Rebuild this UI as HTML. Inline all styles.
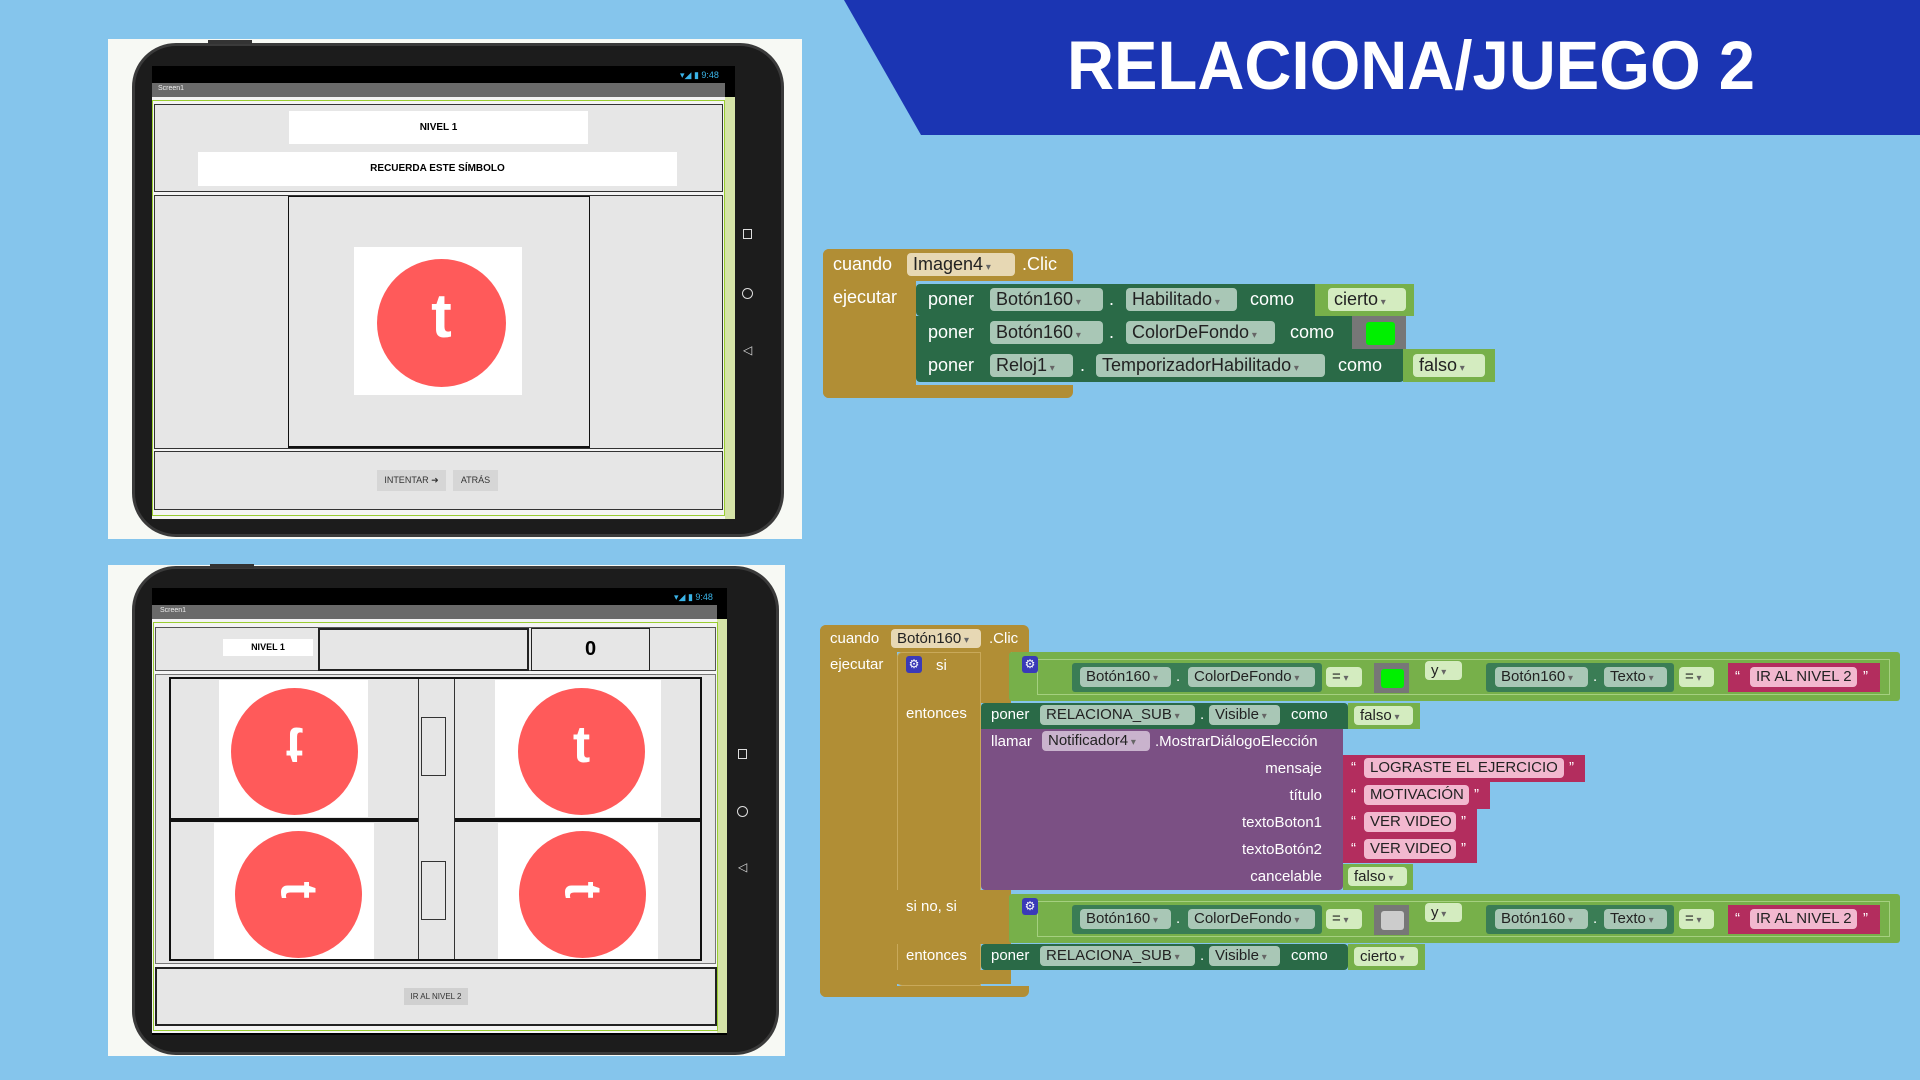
<!DOCTYPE html>
<html><head><meta charset="utf-8"><style>
*{margin:0;padding:0;box-sizing:border-box}
body{width:1920px;height:1080px;background:#85c5ec;position:relative;overflow:hidden;font-family:"Liberation Sans",sans-serif}
div,span{position:absolute}
.g{background:#e6e6e6}
.bx{border:2px solid #333}
.c{background:#ff5a5a;border-radius:50%}
.t{color:#fff;font-weight:bold;text-align:center}
.gold{background:#b18e35}
.dg{background:#2a6a47}
.lg{background:#77b04a}
.pu{background:#7b5084}
.mg{background:#b32d5e}
.w{color:#fff;white-space:nowrap}
.p{border-radius:4px;color:#222;white-space:nowrap;padding-left:6px}
.pd{background:#a9c7b6}
.pl{background:#d4ecc0}
.pg{background:#e7d8b4}
.pp{background:#c9b3cd}
.pk{background:#f2b8cf}
.dd::after{content:" ▾";font-size:10px;color:#666}
</style></head><body>

<!-- title -->
<svg style="position:absolute;left:0;top:0" width="1920" height="140">
<polygon points="844,0 1920,0 1920,135 921,135" fill="#1b35b3"/>
<text x="1067" y="89" font-family="Liberation Sans" font-weight="bold" font-size="69" fill="#fff" textLength="688" lengthAdjust="spacingAndGlyphs">RELACIONA/JUEGO 2</text>
</svg>

<!-- top tablet -->
<div style="left:108px;top:39px;width:694px;height:500px;background:#f7f9f4"></div>
<div style="left:132px;top:43px;width:652px;height:494px;background:#1c1c1c;border-radius:44px;border:3px solid #3a3a3a"></div>
<div style="left:208px;top:40px;width:44px;height:4px;background:#333"></div>
<div style="left:152px;top:66px;width:583px;height:453px;background:#000"></div>
<span style="left:680px;top:70px;font-size:9px;color:#3ab4e8">▾◢ ▮ 9:48</span>
<div style="left:152px;top:83px;width:573px;height:14px;background:#6a6a6a"></div>
<span style="left:158px;top:85px;font-size:7px;color:#eee">Screen1</span>
<div style="left:152px;top:97px;width:583px;height:422px;background:#f4f4f4"></div>
<div style="left:725px;top:97px;width:10px;height:422px;background:#d5e3a8"></div>
<div style="left:152px;top:100px;width:573px;height:416px;border:1px solid #9acd32"></div>
<div class="g bx" style="left:154px;top:104px;width:569px;height:88px;border-width:1px"></div>
<div style="left:289px;top:111px;width:299px;height:33px;background:#fff;font-size:10px;font-weight:bold;text-align:center;line-height:33px">NIVEL 1</div>
<div style="left:198px;top:152px;width:479px;height:34px;background:#fff;font-size:10px;font-weight:bold;text-align:center;line-height:34px">RECUERDA ESTE SÍMBOLO</div>
<div class="g bx" style="left:154px;top:195px;width:569px;height:254px;border-width:1px"></div>
<div class="g" style="left:288px;top:196px;width:302px;height:252px;border:1px solid #111;border-bottom-width:2px"></div>
<div style="left:354px;top:247px;width:168px;height:148px;background:#fff"></div>
<div class="c" style="left:377px;top:259px;width:129px;height:128px"></div>
<div class="t" style="left:377px;top:282px;width:129px;font-size:62px;line-height:70px">t</div>
<div class="g bx" style="left:154px;top:451px;width:569px;height:59px;border-width:1px"></div>
<div style="left:377px;top:470px;width:69px;height:21px;background:#d6d6d6;font-size:9px;line-height:21px;text-align:center;color:#333">INTENTAR ➜</div>
<div style="left:453px;top:470px;width:45px;height:21px;background:#d6d6d6;font-size:9px;line-height:21px;text-align:center;color:#333">ATRÁS</div>
<div style="left:743px;top:229px;width:9px;height:10px;border:1.5px solid #ddd"></div>
<div style="left:742px;top:288px;width:11px;height:11px;border:1.5px solid #ddd;border-radius:50%"></div>
<span style="left:743px;top:343px;font-size:12px;color:#ddd">◁</span>

<!-- bottom tablet -->
<div style="left:108px;top:565px;width:677px;height:491px;background:#f7f9f4"></div>
<div style="left:132px;top:566px;width:647px;height:489px;background:#1c1c1c;border-radius:44px;border:3px solid #3a3a3a"></div>
<div style="left:210px;top:564px;width:44px;height:4px;background:#333"></div>
<div style="left:152px;top:588px;width:575px;height:447px;background:#000"></div>
<span style="left:674px;top:592px;font-size:9px;color:#3ab4e8">▾◢ ▮ 9:48</span>
<div style="left:152px;top:605px;width:565px;height:14px;background:#6a6a6a"></div>
<span style="left:160px;top:607px;font-size:7px;color:#eee">Screen1</span>
<div style="left:152px;top:619px;width:575px;height:414px;background:#f4f4f4"></div>
<div style="left:717px;top:619px;width:10px;height:414px;background:#d5e3a8"></div>
<div style="left:153px;top:622px;width:565px;height:409px;border:1px solid #9acd32"></div>
<div class="g" style="left:155px;top:627px;width:561px;height:44px;border:1px solid #555"></div>
<div style="left:223px;top:639px;width:90px;height:17px;background:#fff;font-size:9px;font-weight:bold;text-align:center;line-height:17px">NIVEL 1</div>
<div class="g" style="left:318px;top:628px;width:211px;height:43px;border:2px solid #222"></div>
<div class="g" style="left:531px;top:628px;width:119px;height:43px;border:1px solid #222;font-size:20px;font-weight:bold;text-align:center;line-height:41px">0</div>
<div class="g" style="left:155px;top:674px;width:561px;height:290px;border:1px solid #777"></div>
<div class="g" style="left:169px;top:677px;width:533px;height:284px;border:2px solid #111"></div>
<div style="left:171px;top:818px;width:529px;height:4px;background:#111"></div>
<div class="g" style="left:418px;top:679px;width:37px;height:280px;border-left:1px solid #333;border-right:1px solid #333"></div>
<div style="left:421px;top:717px;width:25px;height:59px;border:1.5px solid #333"></div>
<div style="left:421px;top:861px;width:25px;height:59px;border:1.5px solid #333"></div>
<div style="left:219px;top:680px;width:149px;height:137px;background:#fff"></div>
<div style="left:495px;top:680px;width:166px;height:137px;background:#fff"></div>
<div style="left:214px;top:823px;width:160px;height:136px;background:#fff"></div>
<div style="left:498px;top:823px;width:160px;height:136px;background:#fff"></div>
<div class="c" style="left:231px;top:688px;width:127px;height:127px"></div>
<div class="c" style="left:518px;top:688px;width:127px;height:127px"></div>
<div class="c" style="left:235px;top:831px;width:127px;height:127px"></div>
<div class="c" style="left:519px;top:831px;width:127px;height:127px"></div>
<div class="t" style="left:231px;top:715px;width:127px;font-size:52px;line-height:60px;transform:scaleY(-1)">t</div>
<div class="t" style="left:518px;top:715px;width:127px;font-size:52px;line-height:60px">t</div>
<div class="t" style="left:235px;top:860px;width:127px;font-size:52px;line-height:60px;transform:rotate(90deg)">t</div>
<div class="t" style="left:519px;top:860px;width:127px;font-size:52px;line-height:60px;transform:rotate(90deg)">t</div>
<div class="g" style="left:155px;top:967px;width:562px;height:59px;border:2px solid #222"></div>
<div style="left:404px;top:988px;width:64px;height:17px;background:#d0d0d0;font-size:8px;line-height:17px;text-align:center;color:#333">IR AL NIVEL 2</div>
<div style="left:738px;top:749px;width:9px;height:10px;border:1.5px solid #ddd"></div>
<div style="left:737px;top:806px;width:11px;height:11px;border:1.5px solid #ddd;border-radius:50%"></div>
<span style="left:738px;top:860px;font-size:12px;color:#ddd">◁</span>

<!-- block 1 -->
<div style="font-size:18px">
<div class="gold" style="left:823px;top:249px;width:250px;height:32px;border-radius:6px 6px 0 0"></div>
<div class="gold" style="left:823px;top:249px;width:93px;height:149px;border-radius:6px 0 0 6px"></div>
<div class="gold" style="left:823px;top:385px;width:250px;height:13px;border-radius:0 0 6px 6px"></div>
<span class="w" style="left:833px;top:254px">cuando</span>
<span class="p pg dd" style="left:907px;top:253px;width:108px;height:23px;line-height:23px">Imagen4</span>
<span class="w" style="left:1022px;top:254px">.Clic</span>
<span class="w" style="left:833px;top:287px">ejecutar</span>

<div class="dg" style="left:916px;top:284px;width:406px;height:32px;border-radius:4px"></div>
<div class="lg" style="left:1315px;top:284px;width:99px;height:32px"></div>
<span class="p pl dd" style="left:1328px;top:288px;width:78px;height:23px;line-height:23px">cierto</span>
<span class="w" style="left:928px;top:289px">poner</span>
<span class="p pd dd" style="left:990px;top:288px;width:113px;height:23px;line-height:23px">Botón160</span>
<span class="w" style="left:1109px;top:289px">.</span>
<span class="p pd dd" style="left:1126px;top:288px;width:111px;height:23px;line-height:23px">Habilitado</span>
<span class="w" style="left:1250px;top:289px">como</span>

<div class="dg" style="left:916px;top:316px;width:437px;height:33px"></div>
<div style="left:1352px;top:316px;width:54px;height:33px;background:#777"></div>
<div style="left:1366px;top:322px;width:29px;height:23px;background:#00f000;border-radius:3px"></div>
<span class="w" style="left:928px;top:322px">poner</span>
<span class="p pd dd" style="left:990px;top:321px;width:113px;height:23px;line-height:23px">Botón160</span>
<span class="w" style="left:1109px;top:322px">.</span>
<span class="p pd dd" style="left:1126px;top:321px;width:149px;height:23px;line-height:23px">ColorDeFondo</span>
<span class="w" style="left:1290px;top:322px">como</span>

<div class="dg" style="left:916px;top:349px;width:488px;height:33px;border-radius:0 0 4px 4px"></div>
<div class="lg" style="left:1403px;top:349px;width:92px;height:33px"></div>
<span class="p pl dd" style="left:1413px;top:354px;width:72px;height:23px;line-height:23px">falso</span>
<span class="w" style="left:928px;top:355px">poner</span>
<span class="p pd dd" style="left:990px;top:354px;width:83px;height:23px;line-height:23px">Reloj1</span>
<span class="w" style="left:1080px;top:355px">.</span>
<span class="p pd dd" style="left:1096px;top:354px;width:229px;height:23px;line-height:23px">TemporizadorHabilitado</span>
<span class="w" style="left:1338px;top:355px">como</span>
</div>

<!-- block 2 -->
<div style="font-size:15px">
<div class="gold" style="left:820px;top:625px;width:209px;height:27px;border-radius:6px 6px 0 0"></div>
<div class="gold" style="left:820px;top:625px;width:77px;height:372px;border-radius:6px 0 0 6px"></div>
<div class="gold" style="left:820px;top:986px;width:209px;height:11px;border-radius:0 0 6px 6px"></div>
<span class="w" style="left:830px;top:630px">cuando</span>
<span class="p pg dd" style="left:891px;top:629px;width:90px;height:19px;line-height:19px">Botón160</span>
<span class="w" style="left:989px;top:630px">.Clic</span>
<span class="w" style="left:830px;top:656px">ejecutar</span>

<div class="gold" style="left:897px;top:652px;width:114px;height:51px;border-radius:5px 0 0 0"></div>
<div class="gold" style="left:897px;top:652px;width:84px;height:334px;border-radius:5px 0 0 5px;border:1px solid #c9a95a"></div>
<div class="gold" style="left:897px;top:890px;width:114px;height:54px"></div>
<div class="gold" style="left:897px;top:970px;width:114px;height:14px"></div>
<div style="left:906px;top:656px;width:16px;height:17px;background:#3a3ab8;border-radius:3px;color:#fff;font-size:12px;line-height:17px;text-align:center">⚙</div>
<span class="w" style="left:936px;top:657px">si</span>
<span class="w" style="left:906px;top:705px">entonces</span>
<span class="w" style="left:906px;top:898px">si no, si</span>
<span class="w" style="left:906px;top:947px">entonces</span>

<!-- cond 1 & 2 -->
<div class="lg" style="left:1009px;top:652px;width:891px;height:49px;border-radius:3px"></div>
<div class="lg" style="left:1009px;top:894px;width:891px;height:49px;border-radius:3px"></div>
<div style="left:1037px;top:659px;width:853px;height:36px;border:1px solid #a5d080"></div>
<div style="left:1037px;top:901px;width:853px;height:36px;border:1px solid #a5d080"></div>
<div style="left:1022px;top:656px;width:16px;height:17px;background:#3a3ab8;border-radius:3px;color:#fff;font-size:12px;line-height:17px;text-align:center">⚙</div>
<div style="left:1022px;top:898px;width:16px;height:17px;background:#3a3ab8;border-radius:3px;color:#fff;font-size:12px;line-height:17px;text-align:center">⚙</div>

<div style="left:1072px;top:663px;width:250px;height:29px;background:#3a7d55;border-radius:3px"></div>
<div style="left:1072px;top:905px;width:250px;height:29px;background:#3a7d55;border-radius:3px"></div>
<span class="p pd dd" style="left:1080px;top:667px;width:91px;height:20px;line-height:20px">Botón160</span>
<span class="w" style="left:1176px;top:668px">.</span>
<span class="p pd dd" style="left:1188px;top:667px;width:127px;height:20px;line-height:20px">ColorDeFondo</span>
<span class="p pl dd" style="left:1326px;top:667px;width:36px;height:20px;line-height:20px">=</span>
<div style="left:1374px;top:663px;width:35px;height:30px;background:#777"></div>
<div style="left:1381px;top:669px;width:23px;height:19px;background:#00f000;border-radius:3px"></div>
<span class="p pl dd" style="left:1425px;top:661px;width:37px;height:19px;line-height:19px">y</span>
<div style="left:1486px;top:663px;width:188px;height:29px;background:#3a7d55;border-radius:3px"></div>
<span class="p pd dd" style="left:1495px;top:667px;width:93px;height:20px;line-height:20px">Botón160</span>
<span class="w" style="left:1593px;top:668px">.</span>
<span class="p pd dd" style="left:1604px;top:667px;width:63px;height:20px;line-height:20px">Texto</span>
<span class="p pl dd" style="left:1679px;top:667px;width:35px;height:20px;line-height:20px">=</span>
<div class="mg" style="left:1728px;top:663px;width:152px;height:29px"></div>
<span class="w" style="left:1735px;top:668px">“</span>
<span class="p pk" style="left:1750px;top:667px;width:107px;height:20px;line-height:20px">IR AL NIVEL 2</span>
<span class="w" style="left:1863px;top:668px">”</span>

<span class="p pd dd" style="left:1080px;top:909px;width:91px;height:20px;line-height:20px">Botón160</span>
<span class="w" style="left:1176px;top:910px">.</span>
<span class="p pd dd" style="left:1188px;top:909px;width:127px;height:20px;line-height:20px">ColorDeFondo</span>
<span class="p pl dd" style="left:1326px;top:909px;width:36px;height:20px;line-height:20px">=</span>
<div style="left:1374px;top:905px;width:35px;height:30px;background:#777"></div>
<div style="left:1381px;top:911px;width:23px;height:19px;background:#ccc;border-radius:3px"></div>
<span class="p pl dd" style="left:1425px;top:903px;width:37px;height:19px;line-height:19px">y</span>
<div style="left:1486px;top:905px;width:188px;height:29px;background:#3a7d55;border-radius:3px"></div>
<span class="p pd dd" style="left:1495px;top:909px;width:93px;height:20px;line-height:20px">Botón160</span>
<span class="w" style="left:1593px;top:910px">.</span>
<span class="p pd dd" style="left:1604px;top:909px;width:63px;height:20px;line-height:20px">Texto</span>
<span class="p pl dd" style="left:1679px;top:909px;width:35px;height:20px;line-height:20px">=</span>
<div class="mg" style="left:1728px;top:905px;width:152px;height:29px"></div>
<span class="w" style="left:1735px;top:910px">“</span>
<span class="p pk" style="left:1750px;top:909px;width:107px;height:20px;line-height:20px">IR AL NIVEL 2</span>
<span class="w" style="left:1863px;top:910px">”</span>

<!-- poner 1 -->
<div class="dg" style="left:981px;top:703px;width:367px;height:26px;border-radius:4px 4px 0 0"></div>
<div class="lg" style="left:1348px;top:703px;width:72px;height:26px"></div>
<span class="p pl dd" style="left:1354px;top:706px;width:59px;height:19px;line-height:19px">falso</span>
<span class="w" style="left:991px;top:706px">poner</span>
<span class="p pd dd" style="left:1040px;top:705px;width:155px;height:20px;line-height:20px">RELACIONA_SUB</span>
<span class="w" style="left:1200px;top:706px">.</span>
<span class="p pd dd" style="left:1209px;top:705px;width:71px;height:20px;line-height:20px">Visible</span>
<span class="w" style="left:1291px;top:706px">como</span>

<!-- llamar -->
<div class="pu" style="left:981px;top:729px;width:362px;height:161px;border-radius:0 0 4px 4px"></div>
<span class="w" style="left:991px;top:733px">llamar</span>
<span class="p pp dd" style="left:1042px;top:731px;width:108px;height:20px;line-height:20px">Notificador4</span>
<span class="w" style="left:1155px;top:733px">.MostrarDiálogoElección</span>
<span class="w" style="left:1200px;top:760px;width:122px;text-align:right">mensaje</span>
<span class="w" style="left:1200px;top:787px;width:122px;text-align:right">título</span>
<span class="w" style="left:1200px;top:814px;width:122px;text-align:right">textoBoton1</span>
<span class="w" style="left:1200px;top:841px;width:122px;text-align:right">textoBotón2</span>
<span class="w" style="left:1200px;top:868px;width:122px;text-align:right">cancelable</span>

<div class="mg" style="left:1343px;top:755px;width:242px;height:27px"></div>
<span class="w" style="left:1351px;top:759px">“</span>
<span class="p pk" style="left:1364px;top:758px;width:200px;height:20px;line-height:20px">LOGRASTE EL EJERCICIO</span>
<span class="w" style="left:1569px;top:759px">”</span>
<div class="mg" style="left:1343px;top:782px;width:147px;height:27px"></div>
<span class="w" style="left:1351px;top:786px">“</span>
<span class="p pk" style="left:1364px;top:785px;width:105px;height:20px;line-height:20px">MOTIVACIÓN</span>
<span class="w" style="left:1474px;top:786px">”</span>
<div class="mg" style="left:1343px;top:809px;width:134px;height:27px"></div>
<span class="w" style="left:1351px;top:813px">“</span>
<span class="p pk" style="left:1364px;top:812px;width:92px;height:20px;line-height:20px">VER VIDEO</span>
<span class="w" style="left:1461px;top:813px">”</span>
<div class="mg" style="left:1343px;top:836px;width:134px;height:27px"></div>
<span class="w" style="left:1351px;top:840px">“</span>
<span class="p pk" style="left:1364px;top:839px;width:92px;height:20px;line-height:20px">VER VIDEO</span>
<span class="w" style="left:1461px;top:840px">”</span>
<div class="lg" style="left:1343px;top:864px;width:70px;height:26px"></div>
<span class="p pl dd" style="left:1348px;top:867px;width:59px;height:19px;line-height:19px">falso</span>

<!-- poner 2 -->
<div class="dg" style="left:981px;top:944px;width:367px;height:26px;border-radius:4px"></div>
<div class="lg" style="left:1348px;top:944px;width:77px;height:26px"></div>
<span class="p pl dd" style="left:1354px;top:947px;width:64px;height:19px;line-height:19px">cierto</span>
<span class="w" style="left:991px;top:947px">poner</span>
<span class="p pd dd" style="left:1040px;top:946px;width:155px;height:20px;line-height:20px">RELACIONA_SUB</span>
<span class="w" style="left:1200px;top:947px">.</span>
<span class="p pd dd" style="left:1209px;top:946px;width:71px;height:20px;line-height:20px">Visible</span>
<span class="w" style="left:1291px;top:947px">como</span>
</div>
</body></html>
